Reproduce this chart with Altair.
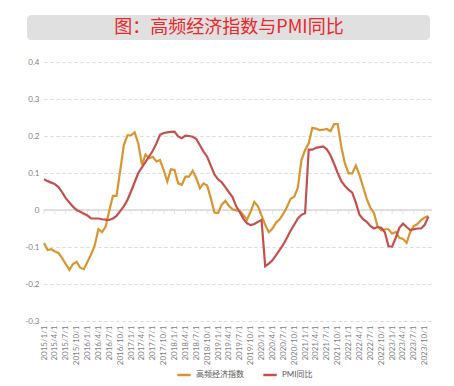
import altair as alt
import pandas as pd

months = [f"{y}/{m}/1" for y in range(2015, 2024) for m in range(1, 13)][:107]
axis_months = [f"{y}/{m}/1" for y in range(2015, 2024) for m in range(1, 13)][:109]
tick_labels = [f"{y}/{m}/1" for y in range(2015, 2024) for m in (1, 4, 7, 10)]
y_ticks = [-0.3, -0.2, -0.1, 0.0, 0.1, 0.2, 0.3, 0.4]

hf_index = [
    -0.089, -0.108, -0.106, -0.112, -0.116, -0.130, -0.146, -0.162, -0.146, -0.140,
    -0.156, -0.160, -0.140, -0.120, -0.095, -0.052, -0.060, -0.045, -0.002, 0.038,
    0.038, 0.105, 0.175, 0.202, 0.202, 0.210, 0.180, 0.122, 0.150, 0.140,
    0.144, 0.131, 0.135, 0.108, 0.077, 0.110, 0.108, 0.072, 0.068, 0.090,
    0.090, 0.106, 0.086, 0.059, 0.072, 0.066, 0.032, -0.007, -0.008, 0.014,
    0.025, 0.011, 0.002, -0.001, -0.002, -0.014, -0.026, -0.004, 0.022, 0.010,
    -0.015, -0.040, -0.060, -0.050, -0.034, -0.025, -0.010, 0.008, 0.030, 0.036,
    0.060, 0.135, 0.162, 0.180, 0.222, 0.220, 0.216, 0.217, 0.219, 0.213,
    0.232, 0.232, 0.170, 0.125, 0.099, 0.099, 0.120, 0.095, 0.062, 0.030,
    0.006, -0.008, -0.045, -0.055, -0.052, -0.052, -0.064, -0.059, -0.075, -0.078,
    -0.089, -0.059, -0.043, -0.038, -0.027, -0.020, -0.016,
]

pmi_yoy = [
    0.083, 0.078, 0.074, 0.070, 0.062, 0.048, 0.032, 0.020, 0.009, 0.000,
    -0.005, -0.010, -0.015, -0.023, -0.023, -0.023, -0.025, -0.026, -0.027, -0.023,
    -0.016, -0.003, 0.010, 0.027, 0.050, 0.075, 0.100, 0.115, 0.130, 0.145,
    0.160, 0.180, 0.203, 0.208, 0.210, 0.211, 0.212, 0.199, 0.194, 0.201,
    0.200, 0.198, 0.192, 0.175, 0.158, 0.144, 0.120, 0.096, 0.083, 0.075,
    0.062, 0.048, 0.035, 0.010, -0.006, -0.024, -0.036, -0.041, -0.038, -0.032,
    -0.027, -0.152, -0.145, -0.136, -0.122, -0.108, -0.093, -0.075, -0.056, -0.040,
    -0.023, -0.013, -0.009, 0.163, 0.163, 0.168, 0.170, 0.172, 0.164, 0.148,
    0.125, 0.100, 0.078, 0.065, 0.055, 0.047, 0.020, -0.013, -0.025, -0.032,
    -0.043, -0.050, -0.046, -0.048, -0.060, -0.098, -0.099, -0.075, -0.048, -0.037,
    -0.046, -0.054, -0.052, -0.050, -0.050, -0.040, -0.018,
]

series_names = ["高频经济指数", "PMI同比"]
series_colors = ["#D9952F", "#C4504E"]
title_text = "图：高频经济指数与PMI同比"

rows = []
for i, mo in enumerate(months):
    rows.append({"month": mo, "series": series_names[0], "value": hf_index[i], "order": 0})
for i, mo in enumerate(months):
    rows.append({"month": mo, "series": series_names[1], "value": pmi_yoy[i], "order": 1})
df = pd.DataFrame(rows)

FONT = "Lato, Noto Sans CJK SC"

xscale = alt.Scale(type="point", domain=axis_months, padding=0)
yscale = alt.Scale(domain=[-0.3, 0.4], nice=False, zero=False)

x_axis = alt.Axis(values=tick_labels, labelAngle=270, labelFontSize=8, labelColor="#7f7f7f",
                  labelFont=FONT, domain=False, ticks=False, grid=False, labelPadding=4,
                  labelOverlap=False, title=None)
y_axis = alt.Axis(values=y_ticks, tickCount=8,
                  labelExpr="datum.value == 0 ? '0' : replace(format(datum.value, '.1f'), '\u2212', '-')",
                  labelFontSize=8, labelColor="#7f7f7f", labelFont=FONT, domain=False, ticks=False,
                  labelOverlap=False, labelFlush=False, title=None,
                  gridColor="#d9d9d9", gridDash=[3, 3], gridWidth=1, labelPadding=5)

zero_df = pd.DataFrame({"month": ["2015/1/1"], "value": [0.0]})
zero_line = alt.Chart(zero_df).mark_rule(color="#d9d9d9", strokeWidth=1.5).encode(
    y=alt.Y("value:Q", scale=yscale, axis=y_axis)
)

ticks_df = pd.DataFrame({"month": tick_labels, "value": [0.0] * len(tick_labels)})
zero_ticks = alt.Chart(ticks_df).mark_tick(color="#d9d9d9", size=4, thickness=1, yOffset=2,
                                           orient="vertical").encode(
    x=alt.X("month:O", scale=xscale, sort=None, axis=x_axis),
    y=alt.Y("value:Q", scale=yscale, axis=y_axis),
)

lines = alt.Chart(df).mark_line(strokeWidth=2.2, clip=False).encode(
    x=alt.X("month:O", scale=xscale, sort=None, axis=x_axis),
    y=alt.Y("value:Q", scale=yscale, axis=y_axis),
    color=alt.Color(
        "series:N", sort=series_names,
        scale=alt.Scale(domain=series_names, range=series_colors),
        legend=alt.Legend(orient="none", legendX=132, legendY=305, direction="horizontal",
                          title=None, symbolType="stroke", symbolSize=180, symbolStrokeWidth=2.5,
                          labelFontSize=8, labelColor="#595959", labelFont=FONT, columnPadding=14),
    ),
    detail="order:N",
)

title_df = pd.DataFrame({"t": [title_text]})
title_box = alt.Chart(title_df).mark_rect(color="#e0e0e0", cornerRadius=4, clip=False).encode(
    x=alt.value(-17), x2=alt.value(386), y=alt.value(-47), y2=alt.value(-22)
)
title_mark = alt.Chart(title_df).mark_text(
    font="Noto Sans CJK SC", fontSize=18, color="#E8262B", align="center", baseline="middle"
).encode(text="t:N", x=alt.value(185), y=alt.value(-34.5))

chart = alt.layer(zero_line, zero_ticks, lines, title_box, title_mark).properties(
    width=388, height=259,
    autosize=alt.AutoSizeParams(type="none"),
    padding={"left": 36, "top": 54, "right": 14, "bottom": 63},
    background="white",
).configure_view(stroke=None)

chart.save("out.html", embed_options={"renderer": "svg", "actions": False})
